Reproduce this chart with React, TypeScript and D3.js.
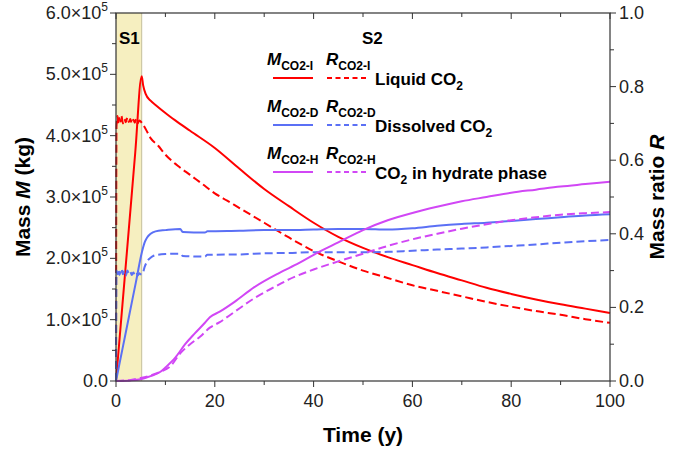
import React from 'react';
import * as d3 from 'd3';

// time (y) and values; masses in units of 1e5 kg
const tLiquidM = [0, 1.3, 2.6, 3.9, 5.2, 5.5, 6, 7, 8, 10, 12, 15, 20, 25, 30, 35, 40, 45, 50, 55, 60, 65, 70, 75, 80, 85, 90, 95, 100];
const liquidM = [0, 1.24, 2.48, 3.73, 4.97, 4.82, 4.68, 4.57, 4.5, 4.37, 4.25, 4.08, 3.8, 3.46, 3.13, 2.85, 2.58, 2.35, 2.17, 2.02, 1.89, 1.76, 1.64, 1.52, 1.42, 1.33, 1.25, 1.18, 1.11];

const tLiquidR = [0, 0.1, 0.3, 0.5, 0.7, 0.9, 1.1, 1.4, 1.7, 2.0, 2.3, 2.6, 2.9, 3.2, 3.5, 3.8, 4.1, 4.4, 4.7, 5.0, 5.3, 6, 7, 8.5, 10, 12.5, 15, 17.5, 20, 22.5, 25, 30, 35, 40, 45, 50, 55, 60, 65, 70, 75, 80, 85, 90, 95, 100];
const liquidR = [0, 0.69, 0.72, 0.7, 0.715, 0.705, 0.72, 0.7, 0.712, 0.703, 0.716, 0.704, 0.712, 0.7, 0.71, 0.702, 0.712, 0.7, 0.708, 0.705, 0.7, 0.685, 0.66, 0.64, 0.615, 0.585, 0.56, 0.535, 0.51, 0.49, 0.47, 0.43, 0.39, 0.353, 0.325, 0.3, 0.28, 0.26, 0.245, 0.23, 0.215, 0.202, 0.19, 0.18, 0.168, 0.158];

const tDissolvedM = [0, 1.3, 2.65, 4, 5.3, 5.8, 6.3, 7, 8, 10, 13, 13.5, 18, 18.5, 25, 30, 35, 40, 45, 50, 55, 60, 65, 70, 75, 80, 85, 90, 95, 100];
const dissolvedM = [0, 0.52, 1.06, 1.6, 2.12, 2.26, 2.34, 2.4, 2.44, 2.46, 2.48, 2.43, 2.42, 2.44, 2.45, 2.46, 2.46, 2.47, 2.48, 2.48, 2.47, 2.49, 2.53, 2.56, 2.58, 2.61, 2.64, 2.67, 2.7, 2.72];

const tDissolvedR = [0, 0.1, 0.3, 0.5, 0.7, 0.9, 1.1, 1.4, 1.7, 2.0, 2.3, 2.6, 2.9, 3.2, 3.5, 3.8, 4.1, 4.4, 4.7, 5.0, 5.3, 5.8, 6.3, 7, 8, 10, 13, 13.5, 18, 18.5, 25, 30, 35, 40, 45, 50, 55, 60, 65, 70, 75, 80, 85, 90, 95, 100];
const dissolvedR = [0, 0.3, 0.29, 0.302, 0.288, 0.297, 0.305, 0.29, 0.298, 0.286, 0.3, 0.292, 0.297, 0.288, 0.295, 0.29, 0.296, 0.287, 0.293, 0.29, 0.29, 0.31, 0.325, 0.335, 0.342, 0.345, 0.346, 0.34, 0.338, 0.343, 0.344, 0.347, 0.348, 0.35, 0.35, 0.35, 0.351, 0.354, 0.357, 0.36, 0.363, 0.367, 0.371, 0.376, 0.38, 0.383];

const tHydrateM = [0, 3, 5, 7, 9, 10, 12, 14, 16, 18, 19, 21, 24, 28, 33, 37, 41, 45, 50, 55, 60, 65, 70, 75, 80, 85, 90, 95, 100];
const hydrateM = [0, 0.01, 0.03, 0.08, 0.15, 0.22, 0.38, 0.6, 0.78, 0.95, 1.04, 1.13, 1.29, 1.53, 1.76, 1.92, 2.1, 2.26, 2.46, 2.62, 2.74, 2.84, 2.93, 3.0, 3.07, 3.12, 3.17, 3.21, 3.25];

const tHydrateR = [0, 3, 5, 7, 9, 11, 13, 15, 17, 19, 21, 24, 28, 32, 35, 40, 45, 50, 55, 60, 65, 70, 75, 80, 85, 90, 95, 100];
const hydrateR = [0, 0.003, 0.008, 0.015, 0.025, 0.04, 0.075, 0.1, 0.12, 0.145, 0.16, 0.188, 0.225, 0.255, 0.276, 0.303, 0.325, 0.346, 0.367, 0.385, 0.4, 0.414, 0.426, 0.437, 0.445, 0.452, 0.456, 0.459];

const stage1End = 5.2;
const xTicks = [0, 20, 40, 60, 80, 100];
const massTicks = [0, 1, 2, 3, 4, 5, 6];
const ratioTicks = [0, 0.2, 0.4, 0.6, 0.8, 1.0];

const legendRows = [
  { sub: 'CO2-I', label: 'Liquid CO', tail: '', color: '#ff0000' },
  { sub: 'CO2-D', label: 'Dissolved CO', tail: '', color: '#5b70f5' },
  { sub: 'CO2-H', label: 'CO', tail: ' in hydrate phase', color: '#d147f5' },
];

const W = 674;
const H = 455;
const left = 116, right = 610, top = 13, bottom = 381;
const font = "'Liberation Sans', Arial, sans-serif";
const axisColor = '#333';

export default function App() {
  const x = d3.scaleLinear().domain([0, 100]).range([left, right]);
  const yM = d3.scaleLinear().domain([0, 6]).range([bottom, top]);
  const yR = d3.scaleLinear().domain([0, 1]).range([bottom, top]);

  const lineM = d3.line<[number, number]>().x((d) => x(d[0])).y((d) => yM(d[1])).curve(d3.curveMonotoneX);
  const lineR = d3.line<[number, number]>().x((d) => x(d[0])).y((d) => yR(d[1])).curve(d3.curveMonotoneX);
  const zip = (a: number[], b: number[]) => a.map((t, i) => [t, b[i]] as [number, number]);

  const series = [
    { d: lineM(zip(tLiquidM, liquidM)), color: legendRows[0].color, dash: null },
    { d: lineR(zip(tLiquidR, liquidR)), color: legendRows[0].color, dash: '8,4' },
    { d: lineM(zip(tDissolvedM, dissolvedM)), color: legendRows[1].color, dash: null },
    { d: lineR(zip(tDissolvedR, dissolvedR)), color: legendRows[1].color, dash: '8,4' },
    { d: lineM(zip(tHydrateM, hydrateM)), color: legendRows[2].color, dash: null },
    { d: lineR(zip(tHydrateR, hydrateR)), color: legendRows[2].color, dash: '8,4' },
  ];

  const xMinor = d3.range(10, 100, 20);
  const mMinor = d3.range(0.5, 6, 1);
  const rMinor = d3.range(0.1, 1, 0.2);

  return (
    <svg width={W} height={H} style={{ position: 'absolute', left: 0, top: 0, fontFamily: font }}>
      <rect x={0} y={0} width={W} height={H} fill="#fff" />
      <rect x={x(0)} y={top} width={x(stage1End) - x(0)} height={bottom - top} fill="#f6efc0" />
      <line x1={x(stage1End)} x2={x(stage1End)} y1={top} y2={bottom} stroke="#c4bf9c" strokeWidth={1} />

      {series.map((s, i) => (
        <path key={i} d={s.d || ''} fill="none" stroke={s.color} strokeWidth={2}
          strokeDasharray={s.dash || undefined} strokeLinejoin="round" />
      ))}

      {/* frame */}
      <rect x={left} y={top} width={right - left} height={bottom - top} fill="none" stroke={axisColor} strokeWidth={1.2} />

      {/* bottom + top ticks */}
      {xTicks.map((t) => (
        <g key={'x' + t}>
          <line x1={x(t)} x2={x(t)} y1={bottom} y2={bottom + 6} stroke={axisColor} />
          <line x1={x(t)} x2={x(t)} y1={top} y2={top + 6} stroke={axisColor} />
          <text x={x(t)} y={bottom + 26} textAnchor="middle" fontSize={18} fill="#222">{t}</text>
        </g>
      ))}
      {xMinor.map((t) => (
        <g key={'xm' + t}>
          <line x1={x(t)} x2={x(t)} y1={bottom} y2={bottom + 4} stroke={axisColor} />
          <line x1={x(t)} x2={x(t)} y1={top} y2={top + 4} stroke={axisColor} />
        </g>
      ))}

      {/* left mass axis */}
      {massTicks.map((v) => (
        <g key={'m' + v}>
          <line x1={left - 6} x2={left} y1={yM(v)} y2={yM(v)} stroke={axisColor} />
          <text x={left - 8} y={yM(v) + 6} textAnchor="end" fontSize={18} fill="#222">
            {v === 0 ? '0.0' : `${v.toFixed(1)}×10`}
            {v === 0 ? null : <tspan fontSize={12} dy={-8}>5</tspan>}
          </text>
        </g>
      ))}
      {mMinor.map((v) => (
        <line key={'mm' + v} x1={left - 4} x2={left} y1={yM(v)} y2={yM(v)} stroke={axisColor} />
      ))}

      {/* right ratio axis */}
      {ratioTicks.map((v) => (
        <g key={'r' + v}>
          <line x1={right} x2={right + 6} y1={yR(v)} y2={yR(v)} stroke={axisColor} />
          <text x={right + 9} y={yR(v) + 6} fontSize={18} fill="#222">{v.toFixed(1)}</text>
        </g>
      ))}
      {rMinor.map((v) => (
        <line key={'rm' + v} x1={right} x2={right + 4} y1={yR(v)} y2={yR(v)} stroke={axisColor} />
      ))}

      {/* axis titles */}
      <text x={(left + right) / 2} y={442} textAnchor="middle" fontSize={21} fontWeight="bold">Time (y)</text>
      <text transform={`translate(30,${(top + bottom) / 2}) rotate(-90)`} textAnchor="middle" fontSize={21} fontWeight="bold">
        Mass <tspan fontStyle="italic">M</tspan> (kg)
      </text>
      <text transform={`translate(664,${(top + bottom) / 2}) rotate(-90)`} textAnchor="middle" fontSize={21} fontWeight="bold">
        Mass ratio <tspan fontStyle="italic">R</tspan>
      </text>

      {/* stage labels */}
      <text x={119} y={44} fontSize={17} fontWeight="bold">S1</text>
      <text x={362} y={44} fontSize={17} fontWeight="bold">S2</text>

      {/* legend */}
      {legendRows.map((r, i) => {
        const ly = 78 + i * 47;
        return (
          <g key={'lg' + i} fontWeight="bold">
            <text x={267} y={ly - 13} fontSize={17}>
              <tspan fontStyle="italic">M</tspan>
              <tspan fontSize={12} dy={5}>{r.sub}</tspan>
            </text>
            <text x={326} y={ly - 13} fontSize={17}>
              <tspan fontStyle="italic">R</tspan>
              <tspan fontSize={12} dy={5}>{r.sub}</tspan>
            </text>
            <line x1={273} x2={313} y1={ly} y2={ly} stroke={r.color} strokeWidth={2} />
            <line x1={327} x2={367} y1={ly} y2={ly} stroke={r.color} strokeWidth={2} strokeDasharray="5,3.5" />
            <text x={375} y={ly + 7} fontSize={17}>
              {r.label}
              <tspan fontSize={12} dy={5}>2</tspan>
              {r.tail ? <tspan fontSize={17} dy={-5}>{r.tail}</tspan> : null}
            </text>
          </g>
        );
      })}
    </svg>
  );
}
